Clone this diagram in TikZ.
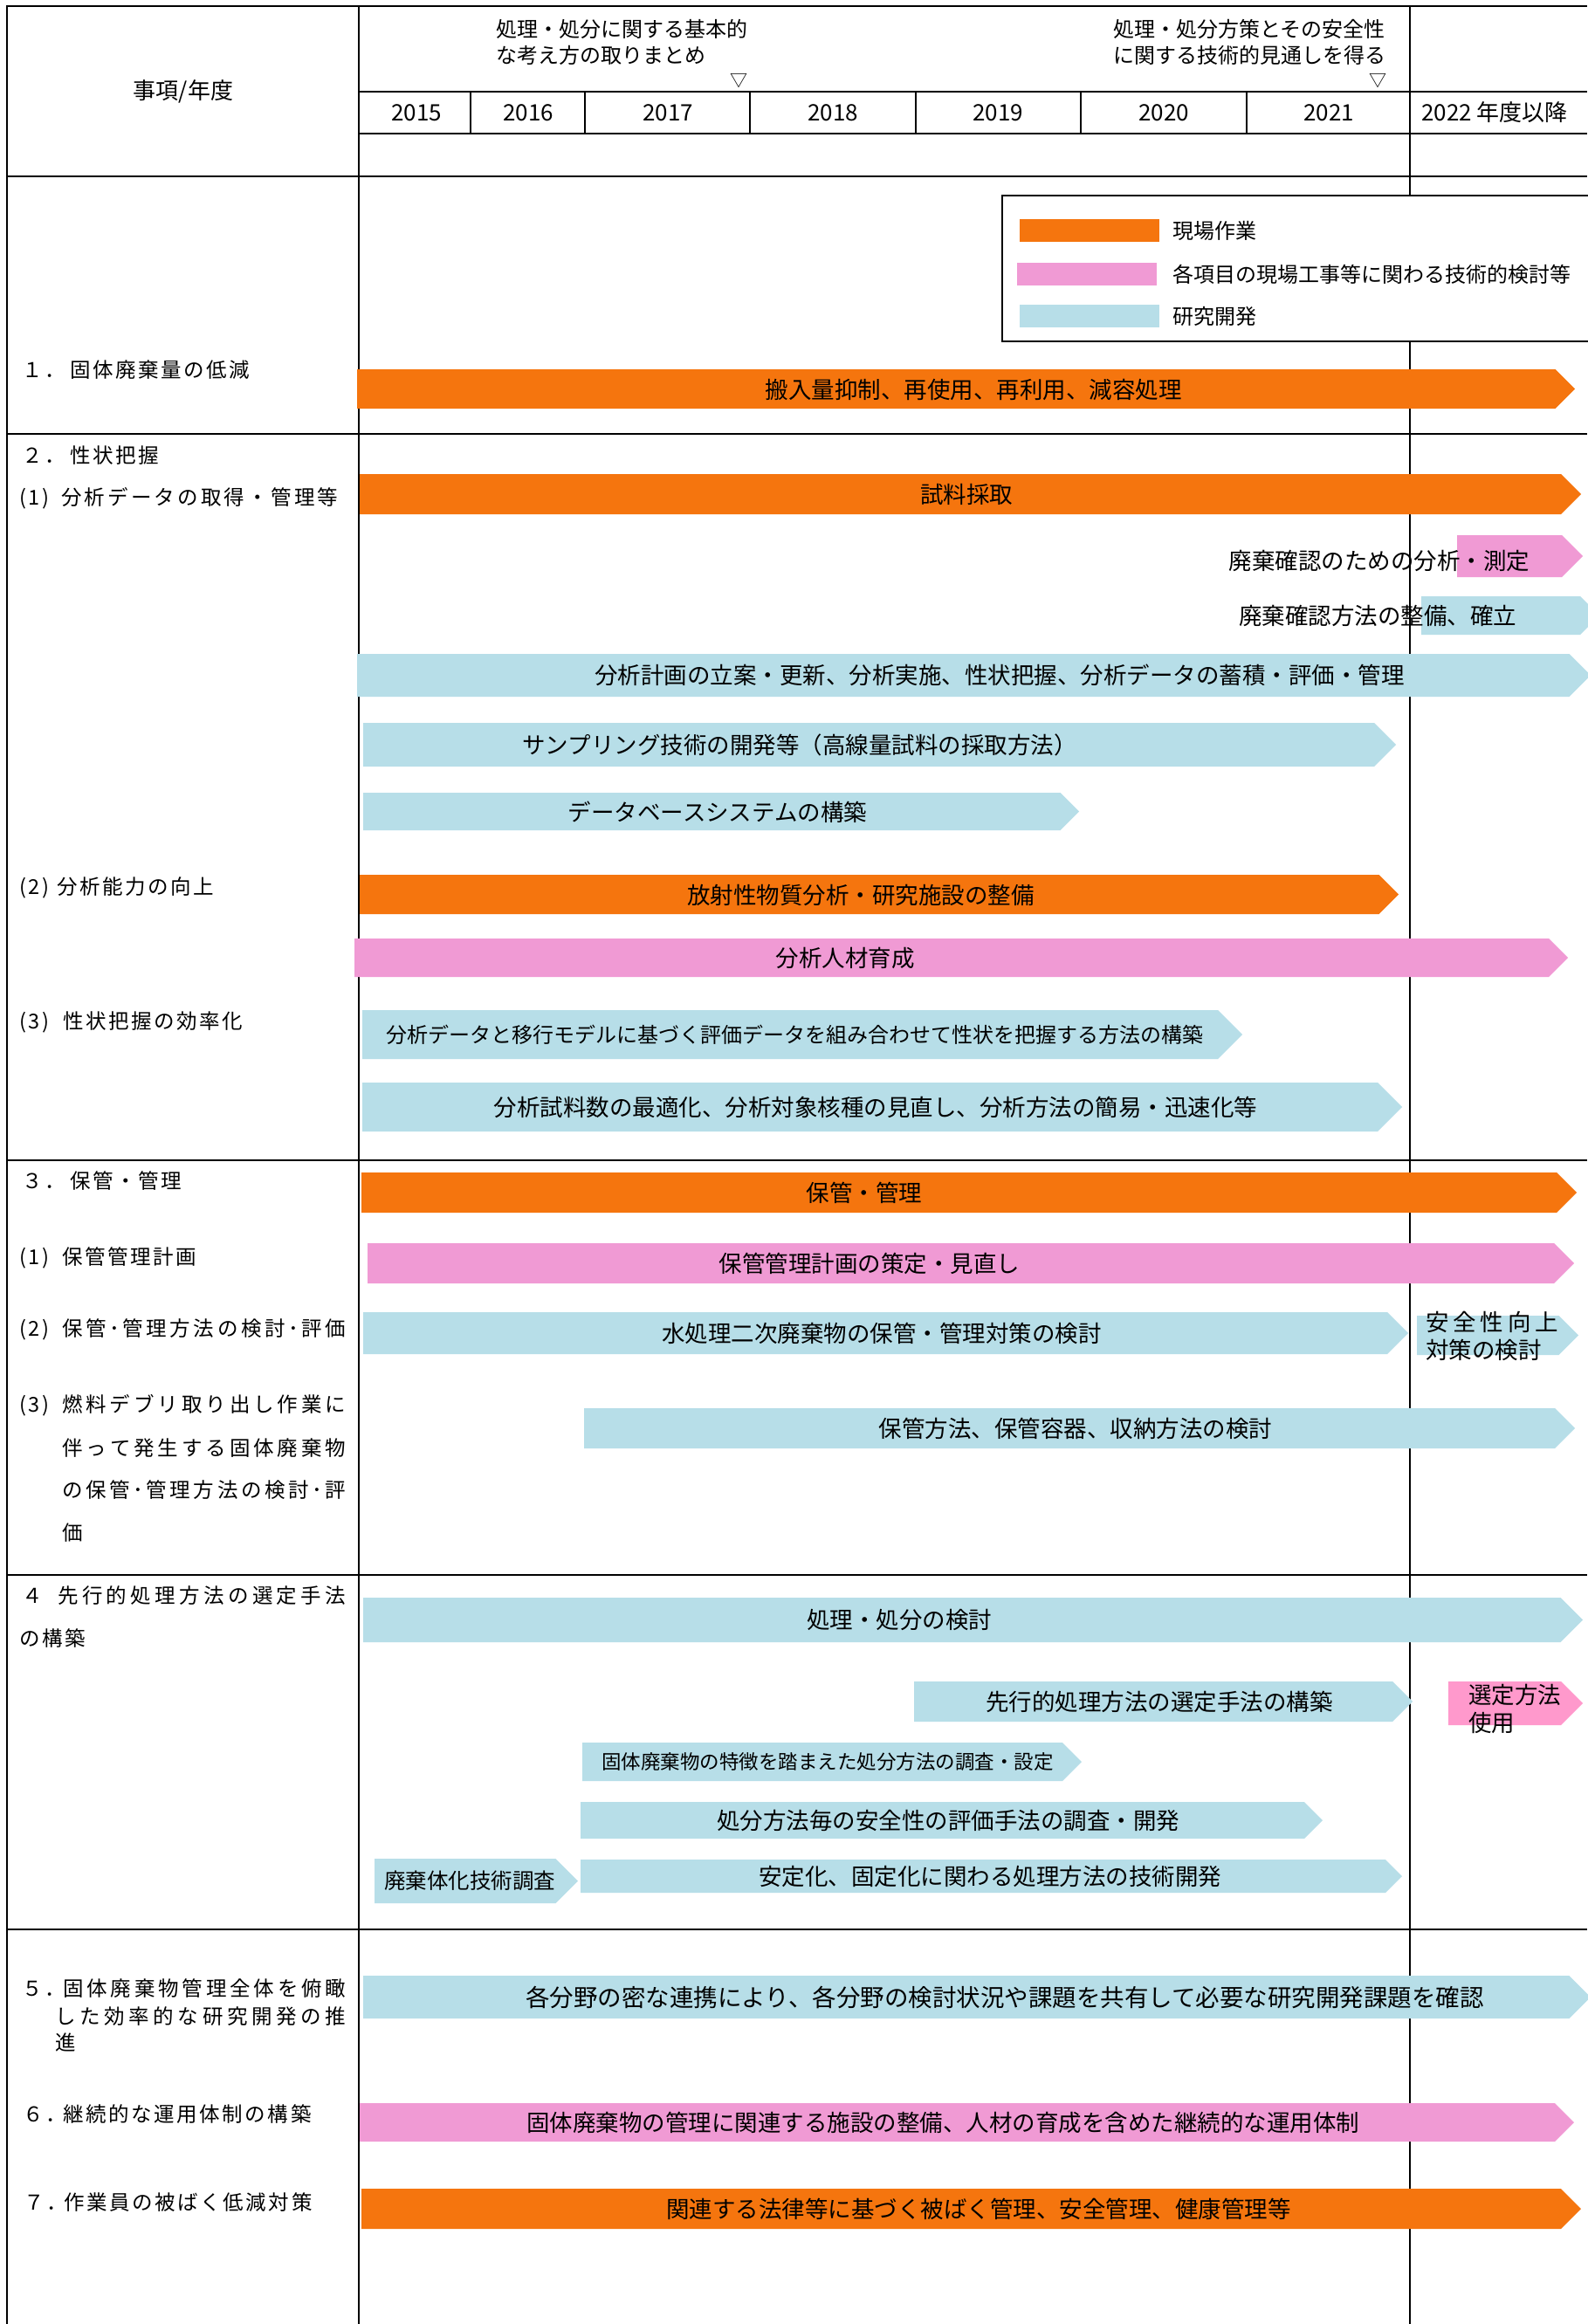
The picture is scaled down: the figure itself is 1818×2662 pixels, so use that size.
\documentclass[tikz,border=0pt]{standalone}
\usepackage{fontspec}
\setmainfont{Noto Sans CJK JP}
\newfontfamily\jpspaced[LetterSpace=11]{Noto Sans CJK JP}
\usepackage{tikz}
\usetikzlibrary{positioning}
\definecolor{WorkOrange}{RGB}{245,117,14}
\definecolor{StudyPink} {RGB}{240,154,212}
\definecolor{RnDBlue}   {RGB}{183,222,232}
\definecolor{UsePink}   {RGB}{255,153,204}

\newcommand{\fsz}[1]{\fontsize{#1}{#1}\selectfont}
% line spread to a given width (pt)
\makeatletter
\def\spreadchars#1{\sc@step#1\@nil}
\def\sc@step#1#2\@nil{#1\if\relax\detokenize{#2}\relax\else\hfil\sc@step#2\@nil\fi}
\makeatother
\newcommand{\jline}[2]{\makebox[#1pt][s]{\spreadchars{#2}}}
% schedule bar: name, colour, x left, x tip, y top, y bottom, text pos, text
\newcommand{\gbar}[8]{%
  \fill[#2] (#3,#5) -- ({#4-(#6-#5)/2},#5) -- (#4,{(#5+#6)/2})
    -- ({#4-(#6-#5)/2},#6) -- (#3,#6) -- cycle;
  \node[bartext] (#1) at #7 {#8};}

\begin{document}
\begin{tikzpicture}[
  x=1pt, y=-1pt,
  rule/.style={line width=2.2pt},
  yrule/.style={line width=1.6pt},
  bartext/.style={inner sep=0pt, align=left, font=\fontsize{26.5}{32}\selectfont},
  lbl/.style={anchor=west, inner sep=0pt, font=\jpspaced\fontsize{23.5}{28}\selectfont},
  yearlbl/.style={inner sep=0pt, font=\fontsize{26}{30}\selectfont},
  note/.style={anchor=west, inner sep=0pt, font=\fontsize{24}{28}\selectfont},
  tri/.style={inner sep=0pt, font=\fontsize{20}{20}\selectfont},
  swatch/.style={minimum width=160pt, minimum height=26pt, inner sep=0pt},
  legtext/.style={anchor=west, inner sep=0pt, font=\fontsize{24}{28}\selectfont},
  legframe/.style={draw, line width=2pt, fill=white}
]
  \useasboundingbox (0,0) rectangle (1818,2662);
  \fill[white] (0,0) rectangle (1818,2662);

  % table rules
  \draw[rule] (1818,7) -- (8,7) -- (8,2662);
  \draw[rule] (411,7) -- (411,2662);
  \draw[rule] (1615,7) -- (1615,2662);
  \draw[rule] (411,105) -- (1818,105);
  \draw[rule] (411,153) -- (1818,153);
  \draw[rule] (8,202) -- (1818,202);
  \draw[rule] (8,497) -- (1818,497);
  \draw[rule] (8,1329) -- (1818,1329);
  \draw[rule] (8,1804) -- (1818,1804);
  \draw[rule] (8,2210) -- (1818,2210);
  \draw[yrule] (539,105) -- (539,153);
  \draw[yrule] (670,105) -- (670,153);
  \draw[yrule] (859,105) -- (859,153);
  \draw[yrule] (1049,105) -- (1049,153);
  \draw[yrule] (1238,105) -- (1238,153);
  \draw[yrule] (1428,105) -- (1428,153);

  % header
  \node[yearlbl] (hItem) at (210,105) {事項/年度};
  \node[yearlbl] (y2015) at (477,129) {2015};
  \node[yearlbl] (y2016) at (605,129) {2016};
  \node[yearlbl] (y2017) at (765,129) {2017};
  \node[yearlbl] (y2018) at (954,129) {2018};
  \node[yearlbl] (y2019) at (1143,129) {2019};
  \node[yearlbl] (y2020) at (1333,129) {2020};
  \node[yearlbl] (y2021) at (1522,129) {2021};
  \node[yearlbl, anchor=west] (y2022) at (1628,129) {2022 年度以降};
  \node[note] (mBasicA) at (568,33) {処理・処分に関する基本的};
  \node[note] (mBasicB) at (568,63) {な考え方の取りまとめ};
  \node[tri] (mBasicT) at (846,93) {▽};
  \node[note] (mTechA) at (1275,33) {処理・処分方策とその安全性};
  \node[note] (mTechB) at (1275,63) {に関する技術的見通しを得る};
  \node[tri] (mTechT) at (1578,93) {▽};

  % legend
  \draw[legframe] (1148,224) rectangle (1834,391);
  \node[swatch, fill=WorkOrange] (kWork) at (1248,264) {};
  \node[legtext, right=15pt of kWork] (tWork) {現場作業};
  \node[swatch, fill=StudyPink] (kStudy) at (1245,314) {};
  \node[legtext, right=18pt of kStudy] (tStudy) {各項目の現場工事等に関わる技術的検討等};
  \node[swatch, fill=RnDBlue] (kRnD) at (1248,362) {};
  \node[legtext, right=15pt of kRnD] (tRnD) {研究開発};

  % item column
  \node[lbl] (s1) at (25,424) {\makebox[55pt][l]{１．}固体廃棄量の低減};
  \node[lbl] (s2) at (25,522) {\makebox[55pt][l]{２．}性状把握};
  \node[lbl] (s2a) at (22,571) {\makebox[48pt][l]{(1)}\jline{317}{分析データの取得・管理等}};
  \node[lbl] (s2b) at (22,1017) {\makebox[43pt][l]{(2)}分析能力の向上};
  \node[lbl] (s2c) at (22,1171) {\makebox[50pt][l]{(3)}性状把握の効率化};
  \node[lbl] (s3) at (25,1353) {\makebox[55pt][l]{３．}保管・管理};
  \node[lbl] (s3a) at (22,1441) {\makebox[49pt][l]{(1)}保管管理計画};
  \node[lbl] (s3b) at (22,1523) {\makebox[49pt][l]{(2)}\jline{325}{保管･管理方法の検討･評価}};
  \node[lbl] (s3c) at (22,1610) {\makebox[49pt][l]{(3)}\jline{325}{燃料デブリ取り出し作業に}};
  \node[lbl] (s3c2) at (71,1659) {\jline{325}{伴って発生する固体廃棄物}};
  \node[lbl] (s3c3) at (71,1707) {\jline{325}{の保管･管理方法の検討･評}};
  \node[lbl] (s3c4) at (71,1756) {価};
  \node[lbl] (s4) at (25,1828) {\makebox[41pt][l]{４}\jline{330}{先行的処理方法の選定手法}};
  \node[lbl] (s4b) at (22,1876) {の構築};
  \node[lbl] (s5) at (25,2278) {\makebox[47pt][l]{５．}\jline{324}{固体廃棄物管理全体を俯瞰}};
  \node[lbl] (s5b) at (63,2310) {\jline{333}{した効率的な研究開発の推}};
  \node[lbl] (s5c) at (63,2339) {進};
  \node[lbl] (s6) at (26,2422) {\makebox[46pt][l]{６．}継続的な運用体制の構築};
  \node[lbl] (s7) at (27,2523) {\makebox[46pt][l]{７．}作業員の被ばく低減対策};

  % 1.
  \gbar{bWaste}{WorkOrange}{409}{1804}{423}{468}{(1115,446)}{搬入量抑制、再使用、再利用、減容処理}
  % 2.
  \gbar{bSample}{WorkOrange}{412}{1811}{543}{589}{(1107,566)}{試料採取}
  \gbar{bCheck}{StudyPink}{1669}{1813}{613}{661}{(1580,642)}{廃棄確認のための分析・測定}
  \gbar{bCheckWay}{RnDBlue}{1628}{1832}{683}{727}{(1578,705)}{廃棄確認方法の整備、確立}
  \gbar{bPlan}{RnDBlue}{409}{1822}{749}{798}{(1145,773)}{分析計画の立案・更新、分析実施、性状把握、分析データの蓄積・評価・管理}
  \gbar{bSampling}{RnDBlue}{416}{1599}{828}{878}{(916,853)}{サンプリング技術の開発等（高線量試料の採取方法）}
  \gbar{bDB}{RnDBlue}{416}{1236}{908}{951}{(822,930)}{データベースシステムの構築}
  \gbar{bFacility}{WorkOrange}{412}{1602}{1002}{1047}{(986,1025)}{放射性物質分析・研究施設の整備}
  \gbar{bStaff}{StudyPink}{406}{1796}{1075}{1119}{(968,1097)}{分析人材育成}
  \gbar{bModel}{RnDBlue}{415}{1423}{1157}{1213}{(910,1185)}{\fsz{24}分析データと移行モデルに基づく評価データを組み合わせて性状を把握する方法の構築}
  \gbar{bSpeed}{RnDBlue}{415}{1606}{1240}{1296}{(1003,1268)}{分析試料数の最適化、分析対象核種の見直し、分析方法の簡易・迅速化等}
  % 3.
  \gbar{bKeep}{WorkOrange}{414}{1806}{1343}{1389}{(990,1366)}{保管・管理}
  \gbar{bKeepPlan}{StudyPink}{421}{1803}{1424}{1470}{(996,1447)}{保管管理計画の策定・見直し}
  \gbar{bWater}{RnDBlue}{416}{1613}{1503}{1551}{(1010,1527)}{水処理二次廃棄物の保管・管理対策の検討}
  \gbar{bSafety}{RnDBlue}{1623}{1808}{1507}{1552}{(1709,1530)}{\jline{152}{安全性向上}\\対策の検討}
  \gbar{bStore}{RnDBlue}{669}{1804}{1613}{1659}{(1232,1636)}{保管方法、保管容器、収納方法の検討}
  % 4.
  \gbar{bTreat}{RnDBlue}{416}{1813}{1830}{1881}{(1030,1855)}{処理・処分の検討}
  \gbar{bSelect}{RnDBlue}{1047}{1618}{1926}{1972}{(1328,1949)}{先行的処理方法の選定手法の構築}
  \gbar{bUse}{UsePink}{1659}{1813}{1926}{1976}{(1735,1957)}{選定方法\\使用}
  \gbar{bFeature}{RnDBlue}{667}{1239}{1996}{2040}{(948,2018)}{\fsz{22.5}固体廃棄物の特徴を踏まえた処分方法の調査・設定}
  \gbar{bEval}{RnDBlue}{665}{1515}{2064}{2106}{(1086,2085)}{処分方法毎の安全性の評価手法の調査・開発}
  \gbar{bForm}{RnDBlue}{429}{662}{2129}{2180}{(538,2154)}{\fsz{24.5}廃棄体化技術調査}
  \gbar{bStable}{RnDBlue}{665}{1606}{2130}{2168}{(1134,2149)}{安定化、固定化に関わる処理方法の技術開発}
  % 5.-7.
  \gbar{bLink}{RnDBlue}{416}{1822}{2263}{2312}{(1151,2288)}{\fsz{27.5}各分野の密な連携により、各分野の検討状況や課題を共有して必要な研究開発課題を確認}
  \gbar{bSystem}{StudyPink}{412}{1803}{2409}{2453}{(1080,2431)}{固体廃棄物の管理に関連する施設の整備、人材の育成を含めた継続的な運用体制}
  \gbar{bDose}{WorkOrange}{414}{1811}{2507}{2553}{(1121,2530)}{関連する法律等に基づく被ばく管理、安全管理、健康管理等}
\end{tikzpicture}
\end{document}
